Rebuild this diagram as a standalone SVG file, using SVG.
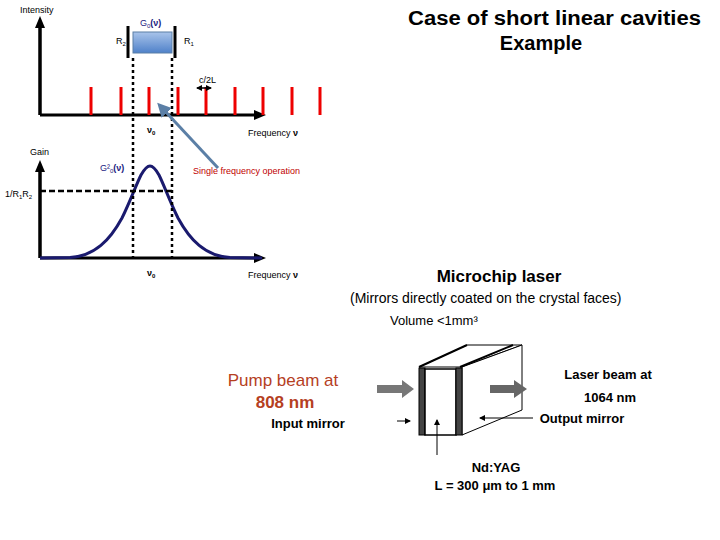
<svg xmlns="http://www.w3.org/2000/svg" width="720" height="540" viewBox="0 0 720 540">
<style>
text{font-family:"Liberation Sans",Arial,sans-serif}
.s{font-size:9px}
.ax{stroke:#000;stroke-width:3;fill:none}
.red{stroke:#e00;stroke-width:3}
.dot{stroke:#000;stroke-width:2.5;stroke-dasharray:3,3}
.b{font-weight:bold}
</style>
<defs>
<marker id="ah" markerUnits="userSpaceOnUse" markerWidth="12" markerHeight="12" refX="4" refY="6" orient="auto"><path d="M0,1L12,6L0,11z" fill="#000"/></marker>
<marker id="bh" markerUnits="userSpaceOnUse" markerWidth="14" markerHeight="14" refX="4" refY="7" orient="auto"><path d="M0,0L14,7L0,14z" fill="#5b7fa6"/></marker>
<marker id="sh" markerUnits="userSpaceOnUse" markerWidth="6" markerHeight="6" refX="5" refY="3" orient="auto-start-reverse"><path d="M0,0L6,3L0,6z" fill="#000"/></marker>
<linearGradient id="g" x1="0" y1="0" x2="0" y2="1"><stop offset="0" stop-color="#a9c4ea"/><stop offset="1" stop-color="#4f81c9"/></linearGradient>
</defs>
<rect width="720" height="540" fill="#fff"/>
<text x="408" y="25" font-size="20" class="b" textLength="293" lengthAdjust="spacingAndGlyphs">Case of short linear cavities</text>
<text x="541" y="50" font-size="20" class="b" text-anchor="middle">Example</text>
<g id="top-plot">
<text x="20" y="13" class="s">Intensity</text>
<path class="ax" d="M40,115V24M40,115H258" marker-end="url(#ah)"/>
<path class="ax" d="M40,115V24" marker-end="url(#ah)"/>
<path class="red" d="M91,87V115M121,87V115M149,87V115M178,87V115M206,87V115M235,87V115M263,87V115M292,87V115M320,87V115"/>
<rect x="133" y="32" width="39" height="21" fill="url(#g)" stroke="#5b7fa6"/>
<path d="M128,26V58M175,26V58" stroke="#000" stroke-width="3"/>
<text x="140" y="26" class="s" fill="#1a1a80">G<tspan font-size="6" dy="2">0</tspan><tspan dy="-2" class="b">(ν)</tspan></text>
<text x="116" y="44" class="s">R<tspan font-size="6" dy="2">2</tspan></text>
<text x="184" y="44" class="s">R<tspan font-size="6" dy="2">1</tspan></text>
<text x="199" y="83" class="s">c/2L</text>
<path d="M197,88H211" stroke="#000" stroke-width="1.5" marker-start="url(#sh)" marker-end="url(#sh)"/>
<text x="147" y="133" class="s b">ν<tspan font-size="6" dy="2">0</tspan></text>
<text x="248" y="136" class="s">Frequency <tspan class="b">ν</tspan></text>
</g>
<g id="bottom-plot">
<text x="30" y="155" class="s">Gain</text>
<path class="ax" d="M40,258V168M40,258H258" marker-end="url(#ah)"/>
<path class="ax" d="M40,258V168" marker-end="url(#ah)"/>
<path d="M40,258 L70,257.5 C95,256 110,240 122,218 C130,202 136,185 141,175 C145,168 148,166 150,166 C152,166 155,168 159,175 C164,185 170,202 178,218 C190,240 205,256 230,257.5 L262,258" fill="none" stroke="#1a1a6e" stroke-width="3"/>
<path d="M40,191H172" stroke="#000" stroke-width="2.5" stroke-dasharray="6,3"/>
<text x="5" y="197" class="s">1/R<tspan font-size="6" dy="2">1</tspan><tspan dy="-2">R</tspan><tspan font-size="6" dy="2">2</tspan></text>
<text x="100" y="171" class="s" fill="#1a1a80">G²<tspan font-size="6" dy="2">0</tspan><tspan dy="-2" class="b">(ν)</tspan></text>
<text x="193" y="174" class="s" fill="#c00000">Single frequency operation</text>
<text x="147" y="276" class="s b">ν<tspan font-size="6" dy="2">0</tspan></text>
<text x="248" y="278" class="s">Frequency <tspan class="b">ν</tspan></text>
</g>
<g id="connectors">
<path class="dot" d="M133,58V258M172,58V258"/>
<path d="M218,168L164,110" stroke="#5b7fa6" stroke-width="3" marker-end="url(#bh)"/>
</g>
<g id="microchip">
<text x="499" y="282" font-size="17" class="b" text-anchor="middle">Microchip laser</text>
<text x="350" y="303" font-size="14">(Mirrors directly coated on the crystal faces)</text>
<text x="390" y="325" font-size="13">Volume &lt;1mm³</text>
<path d="M419,367L467,345H522L462,367Z" fill="#fff" stroke="#000"/>
<path d="M462,367L522,345V410L462,435Z" fill="#fff" stroke="#000"/>
<path d="M419,367L467,345M460,367L513,345" stroke="#000" stroke-width="2"/>
<rect x="419" y="368" width="6" height="67" fill="#444" stroke="#000"/>
<rect x="425" y="369" width="31" height="66" fill="#fff" stroke="#000" stroke-width="1.5"/>
<rect x="456" y="368" width="6" height="67" fill="#444" stroke="#000"/>
<path d="M377,385H402V380L414,389L402,398V393H377Z" fill="#777"/>
<path d="M490,385H514V380L527,389L514,398V393H490Z" fill="#666"/>
<path d="M397,421H410" stroke="#000" marker-end="url(#sh)"/>
<path d="M437,455V420" stroke="#000" marker-end="url(#sh)"/>
<path d="M533,418H480" stroke="#000" marker-end="url(#sh)"/>
<text x="283" y="386" font-size="17" fill="#b5401f" text-anchor="middle">Pump beam at</text>
<text x="285" y="408" font-size="17" fill="#b5401f" class="b" text-anchor="middle">808 nm</text>
<text x="308" y="428" font-size="13" class="b" text-anchor="middle">Input mirror</text>
<text x="608" y="379" font-size="13" class="b" text-anchor="middle">Laser beam at</text>
<text x="610" y="402" font-size="13" class="b" text-anchor="middle">1064 nm</text>
<text x="582" y="423" font-size="13" class="b" text-anchor="middle">Output mirror</text>
<text x="496" y="472" font-size="13" class="b" text-anchor="middle">Nd:YAG</text>
<text x="495" y="490" font-size="13" class="b" text-anchor="middle">L = 300 μm to 1 mm</text>
</g>
</svg>
